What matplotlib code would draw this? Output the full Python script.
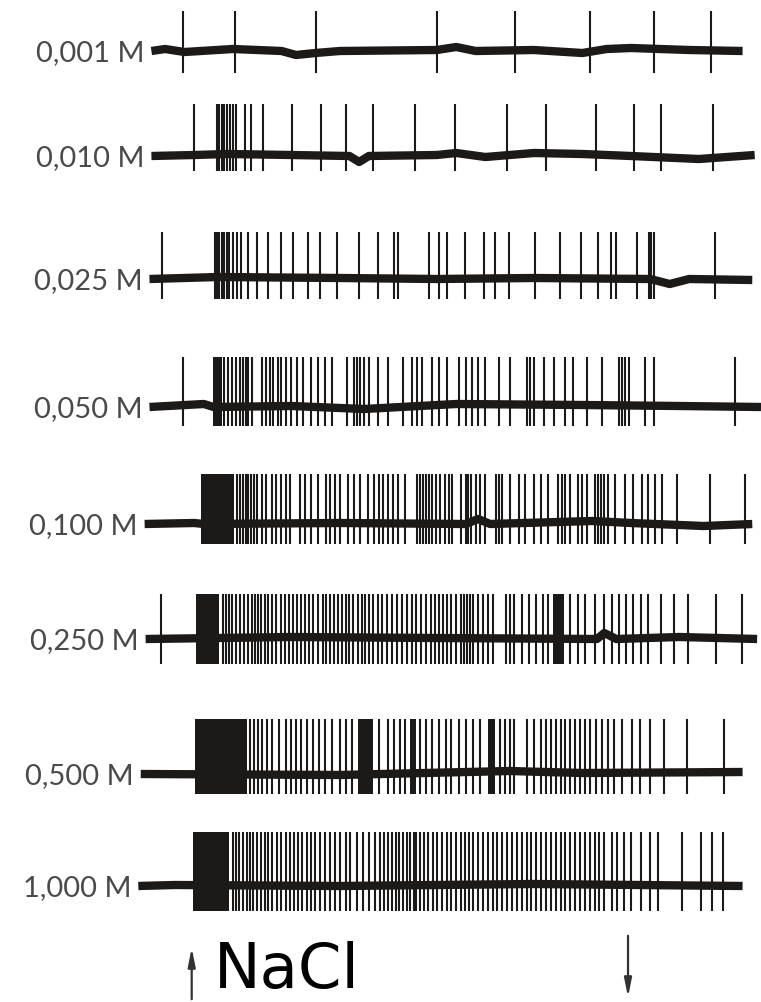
import numpy as np
import matplotlib.pyplot as plt

# time axis in arbitrary units (one unit ~ half a pixel of the reference)
labels = ["0,001 M", "0,010 M", "0,025 M", "0,050 M", "0,100 M", "0,250 M", "0,500 M", "1,000 M"]

# recording span of each trace
spans = [(312, 1530), (312, 1555), (308, 1550), (308, 1568),
         (298, 1550), (300, 1560), (290, 1530), (285, 1530)]

# single spikes
spikes_001 = [378, 484, 652, 900, 1062, 1216, 1348, 1466]
spikes_010 = [400, 447, 452, 458, 462, 468, 474, 480, 486, 505, 518, 541, 601, 662,
              712, 769, 856, 937, 1044, 1126, 1227, 1306, 1362, 1469]
spikes_025 = [333, 444, 448, 452, 457, 462, 467, 472, 480, 488, 497, 512, 530, 552,
              580, 604, 635, 660, 695, 740, 778, 812, 820, 884, 905, 920, 958, 998,
              1020, 1049, 1103, 1153, 1197, 1232, 1258, 1270, 1313, 1338, 1342, 1347, 1474]
spikes_050 = [378, 462, 470, 478, 486, 494, 500, 506, 512, 520, 540, 548, 556, 563,
              572, 580, 590, 600, 612, 625, 640, 656, 670, 685, 715, 730, 735, 742,
              750, 760, 778, 800, 830, 848, 860, 870, 890, 905, 920, 945, 960, 972,
              985, 1000, 1028, 1050, 1085, 1092, 1100, 1120, 1142, 1165, 1180, 1210,
              1240, 1275, 1282, 1288, 1295, 1330, 1348, 1515]
spikes_100 = [488, 494, 500, 506, 512, 518, 524, 530, 540, 548, 560, 568, 580, 590,
              598, 618, 628, 640, 655, 672, 680, 690, 700, 718, 730, 742, 758, 770,
              780, 790, 800, 810, 820, 835, 860, 866, 872, 878, 884, 890, 898, 906,
              916, 925, 932, 950, 960, 965, 970, 980, 990, 1000, 1022, 1028, 1035,
              1050, 1070, 1082, 1100, 1115, 1130, 1150, 1158, 1165, 1175, 1190, 1200,
              1210, 1225, 1232, 1238, 1245, 1252, 1268, 1288, 1305, 1322, 1335, 1350,
              1365, 1395, 1462, 1535]
spikes_250 = [332, 460, 466, 472, 478, 486, 494, 502, 510, 520, 526, 532, 538, 545,
              552, 560, 568, 578, 588, 596, 604, 612, 620, 628, 636, 645, 655, 665,
              672, 680, 688, 696, 705, 712, 720, 728, 738, 745, 752, 760, 768, 778,
              788, 798, 808, 818, 828, 838, 848, 858, 868, 878, 888, 896, 905, 912,
              920, 930, 940, 950, 956, 962, 968, 975, 985, 995, 1005, 1015, 1042,
              1050, 1060, 1075, 1090, 1105, 1118, 1130, 1175, 1190, 1205, 1225, 1245,
              1262, 1275, 1290, 1305, 1320, 1335, 1362, 1388, 1418, 1475, 1528]
spikes_500 = [516, 524, 532, 540, 550, 560, 575, 590, 600, 610, 620, 632, 645, 658,
              670, 685, 700, 712, 725, 780, 800, 812, 825, 835, 865, 878, 890, 905,
              918, 930, 945, 960, 975, 990, 1030, 1040, 1050, 1060, 1085, 1100, 1115,
              1125, 1135, 1145, 1155, 1165, 1175, 1185, 1195, 1205, 1215, 1228, 1240,
              1252, 1265, 1282, 1302, 1318, 1339, 1368, 1415, 1491]
spikes_1000 = [480, 486, 492, 500, 508, 515, 522, 530, 537, 545, 552, 560, 570, 580,
               590, 598, 606, 615, 622, 632, 640, 650, 660, 670, 680, 690, 700, 712,
               722, 735, 748, 760, 772, 782, 792, 800, 808, 815, 822, 830, 838, 845,
               852, 858, 866, 874, 882, 892, 900, 910, 920, 930, 940, 950, 958, 966,
               975, 985, 995, 1005, 1015, 1025, 1035, 1045, 1055, 1065, 1075, 1085,
               1095, 1105, 1115, 1125, 1135, 1145, 1155, 1165, 1175, 1185, 1195, 1205,
               1215, 1225, 1235, 1245, 1260, 1272, 1285, 1300, 1320, 1340, 1355, 1405,
               1445, 1468, 1490]
spikes = [spikes_001, spikes_010, spikes_025, spikes_050,
          spikes_100, spikes_250, spikes_500, spikes_1000]

# dense bursts (start, end) where single spikes merge
bursts = [[], [], [], [(438, 458)], [(414, 482)],
          [(404, 452), (1140, 1162)],
          [(401, 509), (738, 769), (845, 858), (1005, 1020)],
          [(398, 472)]]

# slow baseline drift (time, offset)
drift = [[(312, 0), (340, 2), (380, -1), (480, 2), (580, 0), (610, -4), (650, -2),
          (700, 0), (900, 1), (940, 4), (980, 0), (1100, 1), (1200, -2), (1250, 2),
          (1300, 3), (1420, 1), (1530, 0)],
         [(312, 0), (400, 1), (470, 2), (600, 1), (720, 0), (740, -6), (760, 0),
          (900, 1), (940, 3), (1000, -1), (1100, 3), (1200, 2), (1300, 0),
          (1440, -3), (1555, 1)],
         [(308, 0), (450, 2), (700, 1), (900, 0), (1100, 1), (1340, 0), (1380, -5),
          (1420, 0), (1550, -1)],
         [(308, 0), (420, 3), (440, 0), (600, 1), (750, -2), (940, 3), (1200, 2),
          (1400, 1), (1568, 0)],
         [(298, 0), (400, 1), (420, 0), (700, 1), (960, 0), (985, 5), (1010, 0),
          (1220, 3), (1300, 1), (1450, -2), (1550, 0)],
         [(300, 0), (600, 2), (900, 1), (1230, 0), (1245, 6), (1270, 0), (1400, 2),
          (1560, 0)],
         [(290, 0), (700, -1), (1050, 3), (1200, 1), (1530, 2)],
         [(285, 0), (360, 1), (700, 0), (1100, 2), (1530, 0)]]

fig = plt.figure(figsize=(7.61, 10.03), dpi=100)
ax = fig.add_axes([0, 0, 1, 1])
ax.set_xlim(0, 1568)
ax.set_ylim(1003, 0)
ax.axis('off')

baselines = [52, 157, 280, 408, 525, 640, 775, 887]
ups = [40, 52, 47, 50, 50, 45, 55, 54]
downs = [22, 15, 20, 19, 20, 25, 20, 25]
ink = '#1c1a18'

for i in range(8):
    y0 = baselines[i]
    dx = [p[0] for p in drift[i]]
    dy = [y0 - p[1] for p in drift[i]]
    ax.plot(dx, dy, color=ink, lw=6, solid_capstyle='butt', solid_joinstyle='round')
    ax.vlines(spikes[i], y0 - ups[i], y0 + downs[i], color=ink, lw=1.5)
    for a, b in bursts[i]:
        ax.fill_between([a, b], y0 - ups[i], y0 + downs[i], color=ink, lw=0)
    ax.text(spans[i][0] - 14, y0 + 1, labels[i], ha='right', va='center',
            fontsize=21, color='#4a4a4a', family='Lato')

ax.annotate('', xy=(395, 946), xytext=(395, 1003),
            arrowprops=dict(arrowstyle='-|>,head_width=0.22,head_length=1.1',
                            color='#333333', lw=1.6))
ax.annotate('', xy=(1294, 1001), xytext=(1294, 934),
            arrowprops=dict(arrowstyle='-|>,head_width=0.22,head_length=1.1',
                            color='#333333', lw=1.6))
ax.text(440, 988, 'NaCl', ha='left', va='baseline', fontsize=45, color='black')

fig.savefig('out.png', dpi=100)
